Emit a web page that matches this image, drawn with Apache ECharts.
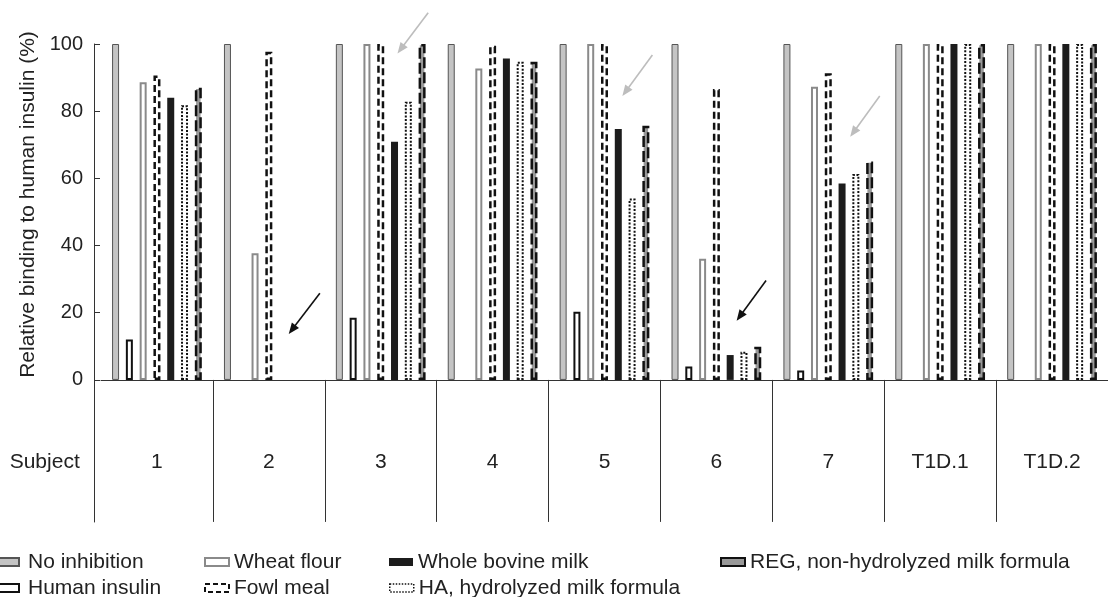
<!DOCTYPE html>
<html><head><meta charset="utf-8">
<script src="https://cdn.jsdelivr.net/npm/echarts@6/dist/echarts.min.js"></script>
<style>html,body{margin:0;padding:0;background:#fff}#c{width:1108px;height:597px}</style>
</head><body><div id="c"></div>
<script>
const categories = ['1','2','3','4','5','6','7','T1D.1','T1D.2'];
const noInhibition = [100,100,100,100,100,100,100,100,100];
const humanInsulin = [12,'-',18.5,'-',20.3,4,2.8,'-','-'];
const wheatFlour  = [88.6,37.7,100,92.7,100,36.1,87.3,100,100];
const fowlMeal    = [90.6,97.7,100,99.5,100,86.6,91.3,100,100];
const wholeMilk   = [84,'-',70.9,95.7,74.7,7.4,58.5,100,100];
const haFormula   = [81.8,'-',82.8,94.7,54,8.4,61.3,100,100];
const regFormula  = [87,'-',100,94.7,75.7,9.9,65,100,100];
const yTicks = [0,20,40,60,80,100];
// arrows in data space: [head category position, head value, tail category position, tail value, kind]
const arrows = [
  [1.178, 13.7, 1.456, 25.8, 'black'],
  [2.150, 97.2, 2.424, 109.3, 'gray'],
  [4.160, 84.5, 4.428, 96.7, 'gray'],
  [5.181, 17.6, 5.444, 29.6, 'black'],
  [6.196, 72.4, 6.460, 84.5, 'gray']
];

const FONT = '"Liberation Sans", Arial, Helvetica, sans-serif';
const TXT = '#222';
const chart = echarts.init(document.getElementById('c'), null, {renderer:'canvas'});

const styles = {
  noInh: {color:'#c4c4c4', borderColor:'#555', borderWidth:1},
  hi:    {color:'#fff', borderColor:'#111', borderWidth:2},
  wheat: {color:'#fff', borderColor:'#8a8a8a', borderWidth:2},
  fowl:  {color:'#fff', borderColor:'#111', borderWidth:2.5, borderType:[7,4]},
  milk:  {color:'#1c1c1c', borderWidth:0},
  ha:    {color:'#fff', borderColor:'#111', borderWidth:2, borderType:[2,1.6]},
  reg:   {color:'#999', borderColor:'#111', borderWidth:2.5, borderType:[11,4]}
};
const legStyles = {
  fowl: {color:'#fff', borderColor:'#111', borderWidth:2, borderType:[5,3]},
  ha:   {color:'#fff', borderColor:'#111', borderWidth:1.5, borderType:[1.5,1.5]}
};

function bar(name, data, itemStyle){
  return {name, type:'bar', data, barWidth:7, barGap:'97%', itemStyle, animation:false, xAxisIndex:0, yAxisIndex:0};
}
function leg(name, left, top, itemStyle, extraPad){
  const o = {data:[name], left, top, orient:'horizontal', padding:0, itemWidth:24, itemHeight:8, icon:'rect',
    textStyle:{fontSize:21, fontFamily:FONT, color:TXT, padding:[0,0,0,extraPad||0]}, selectedMode:false};
  if (itemStyle) o.itemStyle = itemStyle;
  return o;
}
const R1 = 551.5, R2 = 577.5;

chart.setOption({
  animation:false,
  grid:{left:101, right:0, top:44, bottom:75, containLabel:false, outerBoundsMode:'none'},
  legend:[
    leg('No inhibition', -6, R1, null, 4), leg('Human insulin', -6, R2, null, 4),
    leg('Wheat flour', 204, R1), leg('Fowl meal', 204, R2, legStyles.fowl),
    leg('Whole bovine milk', 389, R1), leg('HA, hydrolyzed milk formula', 389, R2, legStyles.ha),
    leg('REG, non-hydrolyzed milk formula', 720, R1)
  ],
  xAxis:[{
    type:'category', data:categories,
    axisLine:{show:true, onZero:true, lineStyle:{color:'#333', width:1}},
    axisTick:{show:true, inside:false, length:142, interval:function(i){return i!==0;}, lineStyle:{color:'#333', width:1}},
    axisLabel:{show:false},
    splitLine:{show:false}
  },{
    type:'category', data:categories, position:'bottom', offset:-70,
    axisLine:{show:false, onZero:false}, axisTick:{show:false},
    axisLabel:{margin:0, fontSize:21, fontFamily:FONT, color:TXT, interval:0},
    splitLine:{show:false}
  }],
  yAxis:{
    type:'value', min:-42.3, max:100, offset:7,
    axisLine:{show:true, lineStyle:{color:'#333', width:1}},
    axisTick:{show:true, inside:true, length:6, customValues:yTicks, lineStyle:{color:'#333'}},
    axisLabel:{margin:11, fontSize:20, fontFamily:FONT, color:TXT, customValues:yTicks},
    splitLine:{show:false}
  },
  series:[
    bar('No inhibition', noInhibition, styles.noInh),
    bar('Human insulin', humanInsulin, styles.hi),
    bar('Wheat flour', wheatFlour, styles.wheat),
    bar('Fowl meal', fowlMeal, styles.fowl),
    bar('Whole bovine milk', wholeMilk, styles.milk),
    bar('HA, hydrolyzed milk formula', haFormula, styles.ha),
    bar('REG, non-hydrolyzed milk formula', regFormula, styles.reg)
  ]
});

function toPx(catPos, val){
  const p0 = chart.convertToPixel({xAxisIndex:0, yAxisIndex:0}, [0, val]);
  const p1 = chart.convertToPixel({xAxisIndex:0, yAxisIndex:0}, [1, val]);
  const bw = p1[0]-p0[0];
  return [p0[0] + catPos*bw, p0[1]];
}
const g = [];
arrows.forEach(function(a){
  const h = toPx(a[0], a[1]), t = toPx(a[2], a[3]);
  const col = a[4]==='black' ? '#111' : '#bdbdbd';
  const dx = h[0]-t[0], dy = h[1]-t[1], L = Math.sqrt(dx*dx+dy*dy);
  const ux = dx/L, uy = dy/L, len = 11, hw = 4.5;
  const bx = h[0]-ux*len, by = h[1]-uy*len;
  g.push({type:'line', shape:{x1:t[0], y1:t[1], x2:bx+ux*2, y2:by+uy*2}, style:{stroke:col, lineWidth:1.6}, z:10});
  g.push({type:'polygon', shape:{points:[[h[0],h[1]],[bx-uy*hw, by+ux*hw],[bx+uy*hw, by-ux*hw]]}, style:{fill:col}, z:10});
});
g.push({type:'text', x:28.5, y:204.5, rotation:Math.PI/2, style:{text:'Relative binding to human insulin (%)', font:'21px '+FONT, fill:TXT, align:'center', verticalAlign:'middle'}});
g.push({type:'text', x:44.7, y:462, style:{text:'Subject', font:'21px '+FONT, fill:TXT, align:'center', verticalAlign:'middle'}});
chart.setOption({graphic:g});
</script></body></html>
